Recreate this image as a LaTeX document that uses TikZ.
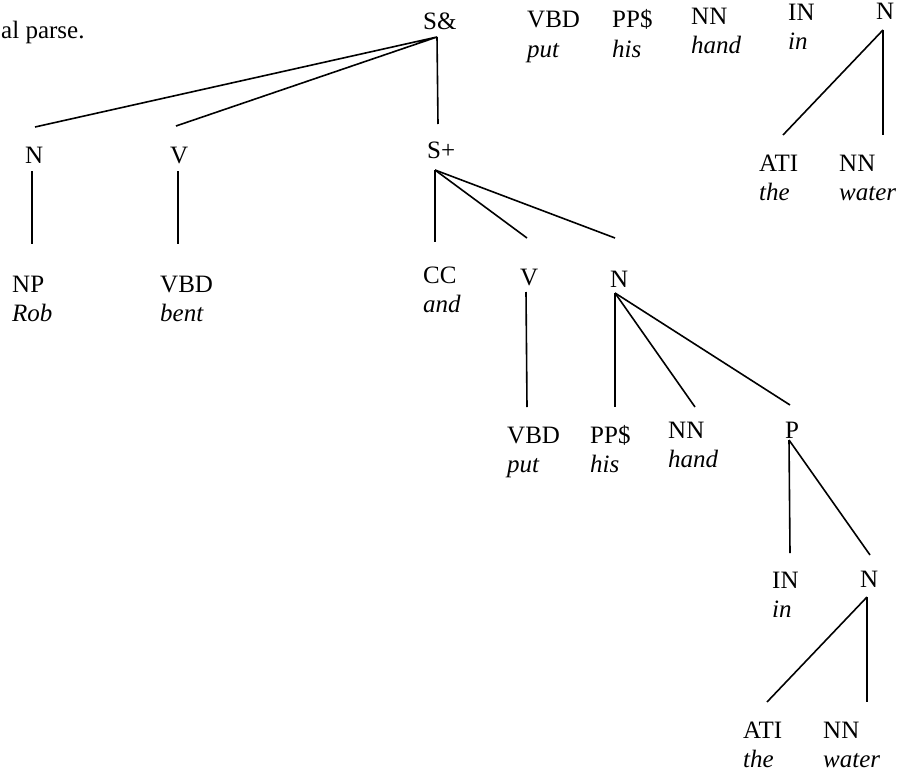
\documentclass[tikz,border=0pt]{standalone}
\usepackage{fontspec}
\setmainfont{Liberation Serif}
\newcommand{\treefont}{\fontsize{25}{29}\selectfont}
\begin{document}
\begin{tikzpicture}[x=1pt,y=-1pt,
  cat/.style={font=\treefont, inner sep=0pt, anchor=base west},
  word/.style={font=\treefont\itshape, inner sep=0pt, anchor=base west},
  branch/.style={line width=1.6pt}]
\useasboundingbox (0,0) rectangle (912,776);
\fill[white] (0,0) rectangle (912,776);

% caption fragment
\node[cat] (cap) at (1,38) {al parse.};

% main tree nodes
\node[cat] (sand) at (423,30) {S\&};
\node[cat] (n1) at (25,163) {N};
\node[cat] (v1) at (170,163) {V};
\node[cat] (splus) at (427,158) {S+};
\node[cat] (np) at (12,292) {NP};
\node[word] (np-w) at ([shift={(0,29)}]np.base west) {Rob};
\node[cat] (vbd1) at (160,292) {VBD};
\node[word] (vbd1-w) at ([shift={(0,29)}]vbd1.base west) {bent};
\node[cat] (cc) at (423,283) {CC};
\node[word] (cc-w) at ([shift={(0,29)}]cc.base west) {and};
\node[cat] (v2) at (520,285) {V};
\node[cat] (n2) at (610,287) {N};
\node[cat] (vbd2) at (507,443) {VBD};
\node[word] (vbd2-w) at ([shift={(0,29)}]vbd2.base west) {put};
\node[cat] (pps) at (590,443) {PP\$};
\node[word] (pps-w) at ([shift={(0,29)}]pps.base west) {his};
\node[cat] (nn1) at (668,438) {NN};
\node[word] (nn1-w) at ([shift={(0,29)}]nn1.base west) {hand};
\node[cat] (p) at (785,438) {P};
\node[cat] (in1) at (772,588) {IN};
\node[word] (in1-w) at ([shift={(0,29)}]in1.base west) {in};
\node[cat] (n3) at (860,587) {N};
\node[cat] (ati1) at (743,738) {ATI};
\node[word] (ati1-w) at ([shift={(0,29)}]ati1.base west) {the};
\node[cat] (nn2) at (823,738) {NN};
\node[word] (nn2-w) at ([shift={(0,29)}]nn2.base west) {water};

% top fragment
\node[cat] (vbdT) at (527,28) {VBD};
\node[word] (vbdT-w) at ([shift={(0,29)}]vbdT.base west) {put};
\node[cat] (ppsT) at (612,28) {PP\$};
\node[word] (ppsT-w) at ([shift={(0,29)}]ppsT.base west) {his};
\node[cat] (nnT) at (691,25) {NN};
\node[word] (nnT-w) at ([shift={(0,29)}]nnT.base west) {hand};
\node[cat] (inT) at (788,21) {IN};
\node[word] (inT-w) at ([shift={(0,29)}]inT.base west) {in};
\node[cat] (nT) at (876,20) {N};
\node[cat] (atiT) at (759,171) {ATI};
\node[word] (atiT-w) at ([shift={(0,29)}]atiT.base west) {the};
\node[cat] (nnT2) at (839,171) {NN};
\node[word] (nnT2-w) at ([shift={(0,29)}]nnT2.base west) {water};

% branches
\draw[branch] ([shift={(10,-36)}]n1.base west) -- ([shift={(14,7)}]sand.base west)
  -- ([shift={(6,-37)}]v1.base west);
\draw[branch] ([shift={(14,7)}]sand.base west) -- ([shift={(11,-34)}]splus.base west);
\draw[branch] ([shift={(7,8)}]n1.base west) -- ([shift={(20,-48)}]np.base west);
\draw[branch] ([shift={(8,8)}]v1.base west) -- ([shift={(18,-48)}]vbd1.base west);

\draw[branch] ([shift={(8,12)}]splus.base west) -- ([shift={(12,-41)}]cc.base west);
\draw[branch] ([shift={(8,12)}]splus.base west) -- ([shift={(7,-47)}]v2.base west);
\draw[branch] ([shift={(8,12)}]splus.base west) -- ([shift={(5,-49)}]n2.base west);

\draw[branch] ([shift={(6,7)}]v2.base west) -- ([shift={(20,-36)}]vbd2.base west);
\draw[branch] ([shift={(5,6)}]n2.base west) -- ([shift={(25,-36)}]pps.base west);
\draw[branch] ([shift={(5,6)}]n2.base west) -- ([shift={(27,-31)}]nn1.base west);
\draw[branch] ([shift={(5,6)}]n2.base west) -- ([shift={(5,-33)}]p.base west);

\draw[branch] ([shift={(4,2)}]p.base west) -- ([shift={(18,-35)}]in1.base west);
\draw[branch] ([shift={(4,2)}]p.base west) -- ([shift={(10,-32)}]n3.base west);

\draw[branch] ([shift={(7,10)}]n3.base west) -- ([shift={(24,-36)}]ati1.base west);
\draw[branch] ([shift={(7,10)}]n3.base west) -- ([shift={(44,-36)}]nn2.base west);

\draw[branch] ([shift={(7,10)}]nT.base west) -- ([shift={(24,-36)}]atiT.base west);
\draw[branch] ([shift={(7,10)}]nT.base west) -- ([shift={(44,-36)}]nnT2.base west);
\end{tikzpicture}
\end{document}
